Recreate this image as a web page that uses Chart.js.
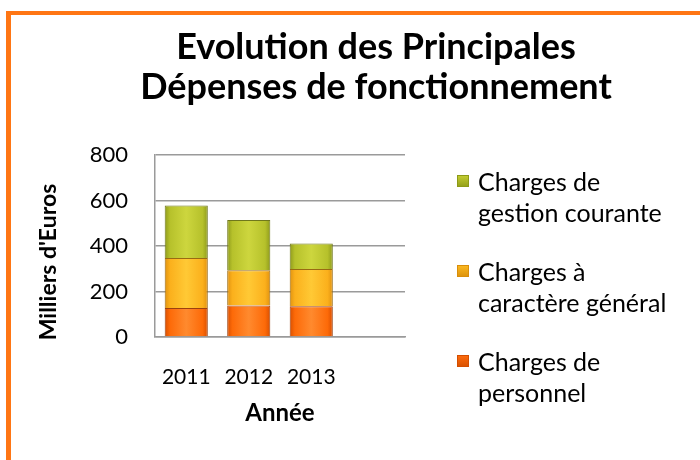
<!DOCTYPE html>
<html>
<head>
<meta charset="utf-8">
<script src="https://cdn.jsdelivr.net/npm/chart.js@4/dist/chart.umd.min.js"></script>
<style>
  html, body { margin: 0; padding: 0; background: #ffffff; }
  #wrap { width: 700px; height: 460px; position: relative; }
</style>
</head>
<body>
<div id="wrap"><canvas id="c" width="700" height="460"></canvas></div>
<script>
// ---- Data ----
const categories = ['2011', '2012', '2013', ''];
const personnel = [128, 139, 135, null];
const caractereGeneral = [219, 154, 164, null];
const gestionCourante = [231, 221, 112, null];
const yTicks = [0, 200, 400, 600, 800];

const titleLines = ['Evolution des Principales', 'Dépenses de fonctionnement'];
const yTitle = "Milliers d'Euros";
const xTitle = 'Année';
const legendLabels = [
  ['Charges de', 'gestion courante'],
  ['Charges à', 'caractère général'],
  ['Charges de', 'personnel']
];

const FONT = 'Lato, "Open Sans", sans-serif';

// bevel-like gradient per bar
function barFill(base, light, dark) {
  return function (ctx) {
    const chart = ctx.chart;
    if (!chart.chartArea || ctx.dataIndex == null) return base;
    const xs = chart.scales.x;
    const cx = xs.getPixelForValue(ctx.dataIndex);
    const half = 21.5;
    const g = chart.ctx.createLinearGradient(cx - half, 0, cx + half, 0);
    g.addColorStop(0, dark);
    g.addColorStop(0.12, base);
    g.addColorStop(0.5, light);
    g.addColorStop(0.88, base);
    g.addColorStop(1, dark);
    return g;
  };
}

const frameAndText = {
  id: 'frameAndText',
  beforeDraw(chart) {
    const c = chart.ctx;
    c.save();
    c.fillStyle = '#ffffff';
    c.fillRect(0, 0, chart.width, chart.height);
    c.fillStyle = '#ff7614';
    c.fillRect(6, 11, 5, chart.height - 11);
    c.fillRect(6, 11, chart.width - 6, 4);
    c.restore();
  },
  afterDraw(chart) {
    const c = chart.ctx;
    c.save();
    // Y axis title
    c.font = 'bold 23px ' + FONT;
    c.fillStyle = '#000000';
    c.textAlign = 'center';
    c.textBaseline = 'middle';
    c.translate(49, 262);
    c.rotate(-Math.PI / 2);
    c.fillText(yTitle, 0, 0);
    c.restore();

    // Legend (reversed order like the reference)
    c.save();
    const blockTop = [183, 273, 363];
    const colors = [
      ['#c6cf33', '#8d9a17'],
      ['#fdbb22', '#d98e0a'],
      ['#ff6d0e', '#d44e00']
    ];
    c.font = '25px ' + FONT;
    c.textAlign = 'left';
    c.textBaseline = 'middle';
    blockTop.forEach((y0, k) => {
      const col = colors[k];
      const g = c.createLinearGradient(0, y0 - 8, 0, y0 + 5);
      g.addColorStop(0, col[0]);
      g.addColorStop(1, col[1]);
      c.fillStyle = g;
      c.fillRect(457, y0 - 8, 12, 12);
      c.strokeStyle = col[1];
      c.lineWidth = 1;
      c.strokeRect(457.5, y0 - 7.5, 11, 11);
      c.fillStyle = '#000000';
      legendLabels[k].forEach((t, i) => c.fillText(t, 478, y0 + i * 31));
    });
    c.restore();
  }
};

const chart = new Chart(document.getElementById('c'), {
  type: 'bar',
  data: {
    labels: categories,
    datasets: [
      {
        label: 'Charges de personnel',
        data: personnel,
        backgroundColor: barFill('#fd6a08', '#ff8a2e', '#d94f00'),
        borderColor: '#9c4010',
        borderWidth: 1,
        barPercentage: 0.69,
        categoryPercentage: 1.0
      },
      {
        label: 'Charges à caractère général',
        data: caractereGeneral,
        backgroundColor: barFill('#fbb01c', '#ffc935', '#e09210'),
        borderColor: '#9a6a12',
        borderWidth: 1,
        barPercentage: 0.69,
        categoryPercentage: 1.0
      },
      {
        label: 'Charges de gestion courante',
        data: gestionCourante,
        backgroundColor: barFill('#b6c12b', '#cdd63e', '#8f9b1c'),
        borderColor: '#6f771c',
        borderWidth: 1,
        barPercentage: 0.69,
        categoryPercentage: 1.0
      }
    ]
  },
  options: {
    responsive: false,
    animation: false,
    devicePixelRatio: 1,
    layout: { padding: { top: 0, left: 52, right: 0, bottom: 32 } },
    plugins: {
      legend: { display: false },
      tooltip: { enabled: false },
      title: {
        display: true,
        text: titleLines,
        color: '#000000',
        font: { family: FONT, size: 36, weight: 'bold', lineHeight: 1.111 },
        padding: { top: 27, bottom: 48 }
      }
    },
    scales: {
      x: {
        stacked: true,
        grid: { display: false, drawTicks: false },
        border: { display: true, color: '#9a9a9a', width: 1.5 },
        ticks: { color: '#000000', font: { family: FONT, size: 21 }, padding: 28, maxRotation: 0 },
        title: {
          display: true,
          text: xTitle,
          color: '#000000',
          font: { family: FONT, size: 24, weight: 'bold' },
          padding: { top: 0, bottom: 0 }
        },
        afterFit(s) { s.height = 91; }
      },
      y: {
        stacked: true,
        min: 0,
        max: 800,
        afterBuildTicks(s) { s.ticks = yTicks.map(v => ({ value: v })); },
        grid: { color: '#9a9a9a', lineWidth: 1.5, drawTicks: false },
        border: { display: true, color: '#9a9a9a', width: 1.5 },
        ticks: { color: '#000000', font: { family: FONT, size: 22 }, padding: 27 },
        afterFit(s) { s.width = 103; }
      },
      yr: {
        position: 'right',
        display: true,
        grid: { display: false, drawTicks: false },
        border: { display: false },
        ticks: { display: false },
        afterFit(s) { s.width = 295; }
      }
    }
  },
  plugins: [frameAndText]
});
</script>
</body>
</html>
